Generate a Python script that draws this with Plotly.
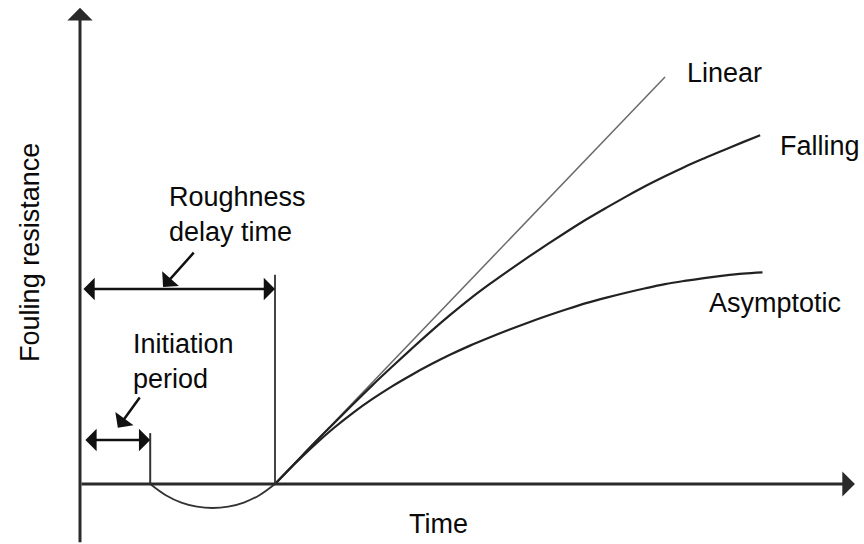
import plotly.graph_objects as go

# ---- data (time units, fouling-resistance units) ----
t_dip = [1.8, 2.2, 2.6, 3.0, 3.4, 3.8, 4.2, 4.6, 5.0]
r_dip = [0.0, -0.275, -0.456, -0.557, -0.59, -0.557, -0.456, -0.275, 0.0]

t_linear = [5.0, 15.0]
r_linear = [0.0, 10.0]

t_falling = [5.0, 5.5, 6.0, 6.5, 7.0, 7.5, 8.0, 8.5, 9.0, 9.5, 10.0, 10.5, 11.0, 11.5, 12.0, 12.5, 13.0,
             13.5, 14.0, 14.5, 15.0, 15.5, 16.0, 16.5, 17.0, 17.44]
r_falling = [0.0, 0.5, 1.0, 1.48, 1.96, 2.43, 2.88, 3.32, 3.75, 4.16, 4.55, 4.91, 5.25, 5.58, 5.9, 6.21, 6.51,
             6.79, 7.06, 7.32, 7.56, 7.79, 8.0, 8.2, 8.4, 8.57]

t_asym = [5.0, 5.5, 6.0, 6.5, 7.0, 7.5, 8.0, 8.5, 9.0, 9.5, 10.0, 10.5, 11.0, 11.5, 12.0, 12.5, 13.0,
          13.5, 14.0, 14.5, 15.0, 15.5, 16.0, 16.5, 17.0, 17.5]
r_asym = [0.0, 0.49, 0.95, 1.37, 1.75, 2.09, 2.4, 2.68, 2.94, 3.18, 3.4, 3.6, 3.79, 3.97, 4.14, 4.3, 4.45,
          4.58, 4.7, 4.81, 4.91, 4.99, 5.06, 5.12, 5.17, 5.2]

initiation_end = 1.8
initiation_marker_top = 1.25
roughness_end = 5.0
roughness_marker_top = 5.14

curve_labels = ["Linear", "Falling", "Asymptotic"]

FONT = "Liberation Sans, Arial, sans-serif"
FS = 27
AX_COL = "#2a2a2a"

fig = go.Figure()

def line(x, y, color, width, shape="linear"):
    fig.add_trace(go.Scatter(x=x, y=y, mode="lines", line=dict(color=color, width=width, shape=shape),
                             hoverinfo="skip", showlegend=False))

line(t_dip, r_dip, "#333333", 1.8, "spline")
line(t_linear, r_linear, "#6a6a6a", 1.5)
line(t_falling, r_falling, "#222222", 2.2, "spline")
line(t_asym, r_asym, "#222222", 2.2, "spline")
line([initiation_end, initiation_end], [0, initiation_marker_top], "#333333", 2)
line([roughness_end, roughness_end], [0, roughness_marker_top], "#444444", 2)

ann = []

def arrow(x0, y0, x1, y1, width, head=1, size=1.0, side="end", color="#111111"):
    ann.append(dict(x=x1, y=y1, ax=x0, ay=y0, xref="x", yref="y", axref="x", ayref="y",
                    text="", showarrow=True, arrowhead=head, arrowsize=size, arrowwidth=width,
                    arrowcolor=color, arrowside=side, standoff=0, startstandoff=0))

# axes
arrow(0, -1.47, 0, 11.7, 3, head=1, size=1.4, color=AX_COL)
arrow(0, 0, 19.87, 0, 3, head=1, size=1.4, color=AX_COL)
# dimension arrows
arrow(0.05, 4.79, roughness_end, 4.79, 2.5, head=1, size=1.5, side="end+start")
arrow(0.1, 1.08, initiation_end, 1.08, 2.5, head=1, size=1.5, side="end+start")
# pointer arrows
arrow(2.95, 5.72, 2.13, 4.84, 2.5, head=1, size=1.5)
arrow(1.56, 2.16, 0.97, 1.38, 2.5, head=1, size=1.5)

def text(x, y, s, xanchor="left", angle=0, align="left"):
    ann.append(dict(x=x, y=y, xref="x", yref="y", text=s, showarrow=False, xanchor=xanchor,
                    yanchor="middle", textangle=angle, align=align,
                    font=dict(family=FONT, size=FS, color="#0a0a0a")))

text(15.51, 10.1, curve_labels[0])
text(17.9, 8.3, curve_labels[1])
text(16.08, 4.45, curve_labels[2])
text(2.23, 6.62, "Roughness<br>delay time")
text(1.31, 3.02, "Initiation<br>period")
text(9.18, -0.98, "Time", xanchor="center")
text(-1.28, 5.68, "Fouling resistance", xanchor="center", angle=-90)

fig.update_layout(
    width=864, height=544, margin=dict(l=0, r=0, t=0, b=0),
    paper_bgcolor="white", plot_bgcolor="white",
    xaxis=dict(range=[-80 / 39, 784 / 39], visible=False, fixedrange=True),
    yaxis=dict(range=[-60 / 40.7, 484 / 40.7], visible=False, fixedrange=True),
    annotations=ann, showlegend=False,
)

div = fig.to_html(full_html=False, include_plotlyjs=True, config={"displayModeBar": False})
html = ("<!DOCTYPE html><html><head><meta charset='utf-8'>"
        "<style>html,body{margin:0;padding:0;overflow:hidden;background:white;}</style>"
        "</head><body>" + div + "</body></html>")
with open("out.html", "w", encoding="utf-8") as f:
    f.write(html)
